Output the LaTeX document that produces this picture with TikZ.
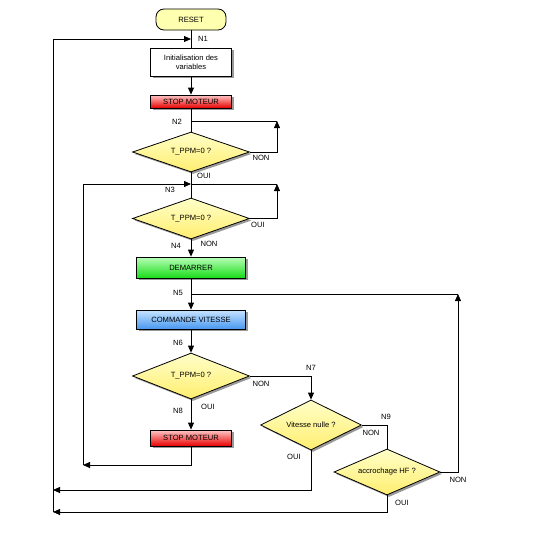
\documentclass[tikz,border=0pt]{standalone}
\usepackage{fontspec}
\setmainfont{Liberation Sans}
\usetikzlibrary{shapes.geometric,arrows.meta,shadows}
\definecolor{redT}{HTML}{FFC8C8}\definecolor{redB}{HTML}{E80000}
\definecolor{grnT}{HTML}{B8FFB8}\definecolor{grnB}{HTML}{18DC18}
\definecolor{bluT}{HTML}{C8E4FF}\definecolor{bluB}{HTML}{4898F0}
\definecolor{yelT}{HTML}{FFFFC8}\definecolor{yelB}{HTML}{FFEE70}
\definecolor{rstF}{HTML}{FFFFB0}
\begin{document}
\begin{tikzpicture}[x=1pt,y=-1pt,
  font=\fontsize{7.6}{9}\selectfont,
  line width=0.8pt,
  shad/.style={drop shadow={shadow xshift=2pt,shadow yshift=-2pt,fill=black!40,opacity=1}},
  procbox/.style={draw,rectangle,inner sep=0pt,align=center,shad},
  decbox/.style={draw,diamond,inner sep=0pt,aspect=2.6,top color=yelT,bottom color=yelB,shad},
  arr/.style={-{Triangle[length=7pt,width=6pt]}},
  lbl/.style={inner sep=0pt}]
\useasboundingbox (0,0) rectangle (539,538);
% nodes
\node[draw,rounded corners=8pt,fill=rstF,minimum width=70pt,minimum height=21pt,inner sep=0pt] (reset) at (191,19.5) {RESET};
\node[procbox,fill=white,minimum width=81pt,minimum height=28pt] (init) at (191,62) {Initialisation des\\variables};
\node[procbox,top color=redT,bottom color=redB,minimum width=81pt,minimum height=13pt] (stop1) at (191,101.5) {STOP MOTEUR};
\node[decbox,minimum width=117pt,minimum height=40pt] (d1) at (191,152) {T\_PPM=0 ?};
\node[decbox,minimum width=117pt,minimum height=41pt] (d2) at (191,218.5) {T\_PPM=0 ?};
\node[procbox,top color=grnT,bottom color=grnB,minimum width=109pt,minimum height=21pt] (dem) at (191,267.5) {DEMARRER};
\node[procbox,top color=bluT,bottom color=bluB,minimum width=109pt,minimum height=19pt] (cmd) at (191,319.5) {COMMANDE VITESSE};
\node[decbox,minimum width=117pt,minimum height=46pt] (d3) at (191,376) {T\_PPM=0 ?};
\node[procbox,top color=redT,bottom color=redB,minimum width=81pt,minimum height=16pt] (stop2) at (191,438) {STOP MOTEUR};
\node[decbox,minimum width=101pt,minimum height=50pt] (dv) at (311,425) {Vitesse nulle ?};
\node[decbox,minimum width=106pt,minimum height=46pt] (dhf) at (387,472) {accrochage HF ?};
% coordinates
\coordinate (n1) at (191,39);
\coordinate (n2) at (191,121);
\coordinate (n2r) at (277,121);
\coordinate (n3) at (191,184);
\coordinate (n3r) at (277,184);
\coordinate (n5) at (191,294);
\coordinate (n5r) at (458,294);
\coordinate (l3b) at (83,465);
\coordinate (l3t) at (83,184);
\coordinate (l1a) at (53,490);
\coordinate (l1b) at (53,512);
\coordinate (l1t) at (53,39);
% connectors
\draw (reset) -- (init);
\draw[arr] (init) -- (stop1);
\draw (stop1) -- (d1);
\draw[arr] (d1.east) -| (n2r);
\draw (n2r) -- (n2);
\draw (d1) -- (d2);
\draw[arr] (d2.east) -| (n3r);
\draw (n3r) -- (n3);
\draw[arr] (d2) -- (dem);
\draw[arr] (dem) -- (cmd);
\draw[arr] (cmd) -- (d3);
\draw[arr] (d3) -- (stop2);
\draw[arr] (stop2.south) |- (l3b);
\draw[arr] (l3b) -- (l3t) -- (n3);
\draw[arr] (d3.east) -| (dv.north);
\draw (dv.east) -| (dhf.north);
\draw[arr] (dv.south) |- (l1a);
\draw[arr] (dhf.south) |- (l1b);
\draw[arr] (l1b) -- (l1t) -- (n1);
\draw[arr] (dhf.east) -| (n5r);
\draw (n5r) -- (n5);
% labels
\node[lbl] (tn1) at (203,39) {N1};
\node[lbl] (tn2) at (177,122) {N2};
\node[lbl] (t1non) at (261,158) {NON};
\node[lbl] (t1oui) at (204,176) {OUI};
\node[lbl] (tn3) at (170,190) {N3};
\node[lbl] (t2oui) at (258,225) {OUI};
\node[lbl] (tn4) at (176,246) {N4};
\node[lbl] (t2non) at (209,244) {NON};
\node[lbl] (tn5) at (178,293) {N5};
\node[lbl] (tn6) at (178,343) {N6};
\node[lbl] (t3non) at (261,384) {NON};
\node[lbl] (t3oui) at (208,407) {OUI};
\node[lbl] (tn8) at (178,411) {N8};
\node[lbl] (tn7) at (311,368) {N7};
\node[lbl] (tn9) at (386,417) {N9};
\node[lbl] (tvnon) at (371,433) {NON};
\node[lbl] (tvoui) at (294,457) {OUI};
\node[lbl] (thoui) at (402,503) {OUI};
\node[lbl] (thnon) at (458,480) {NON};
\end{tikzpicture}
\end{document}
